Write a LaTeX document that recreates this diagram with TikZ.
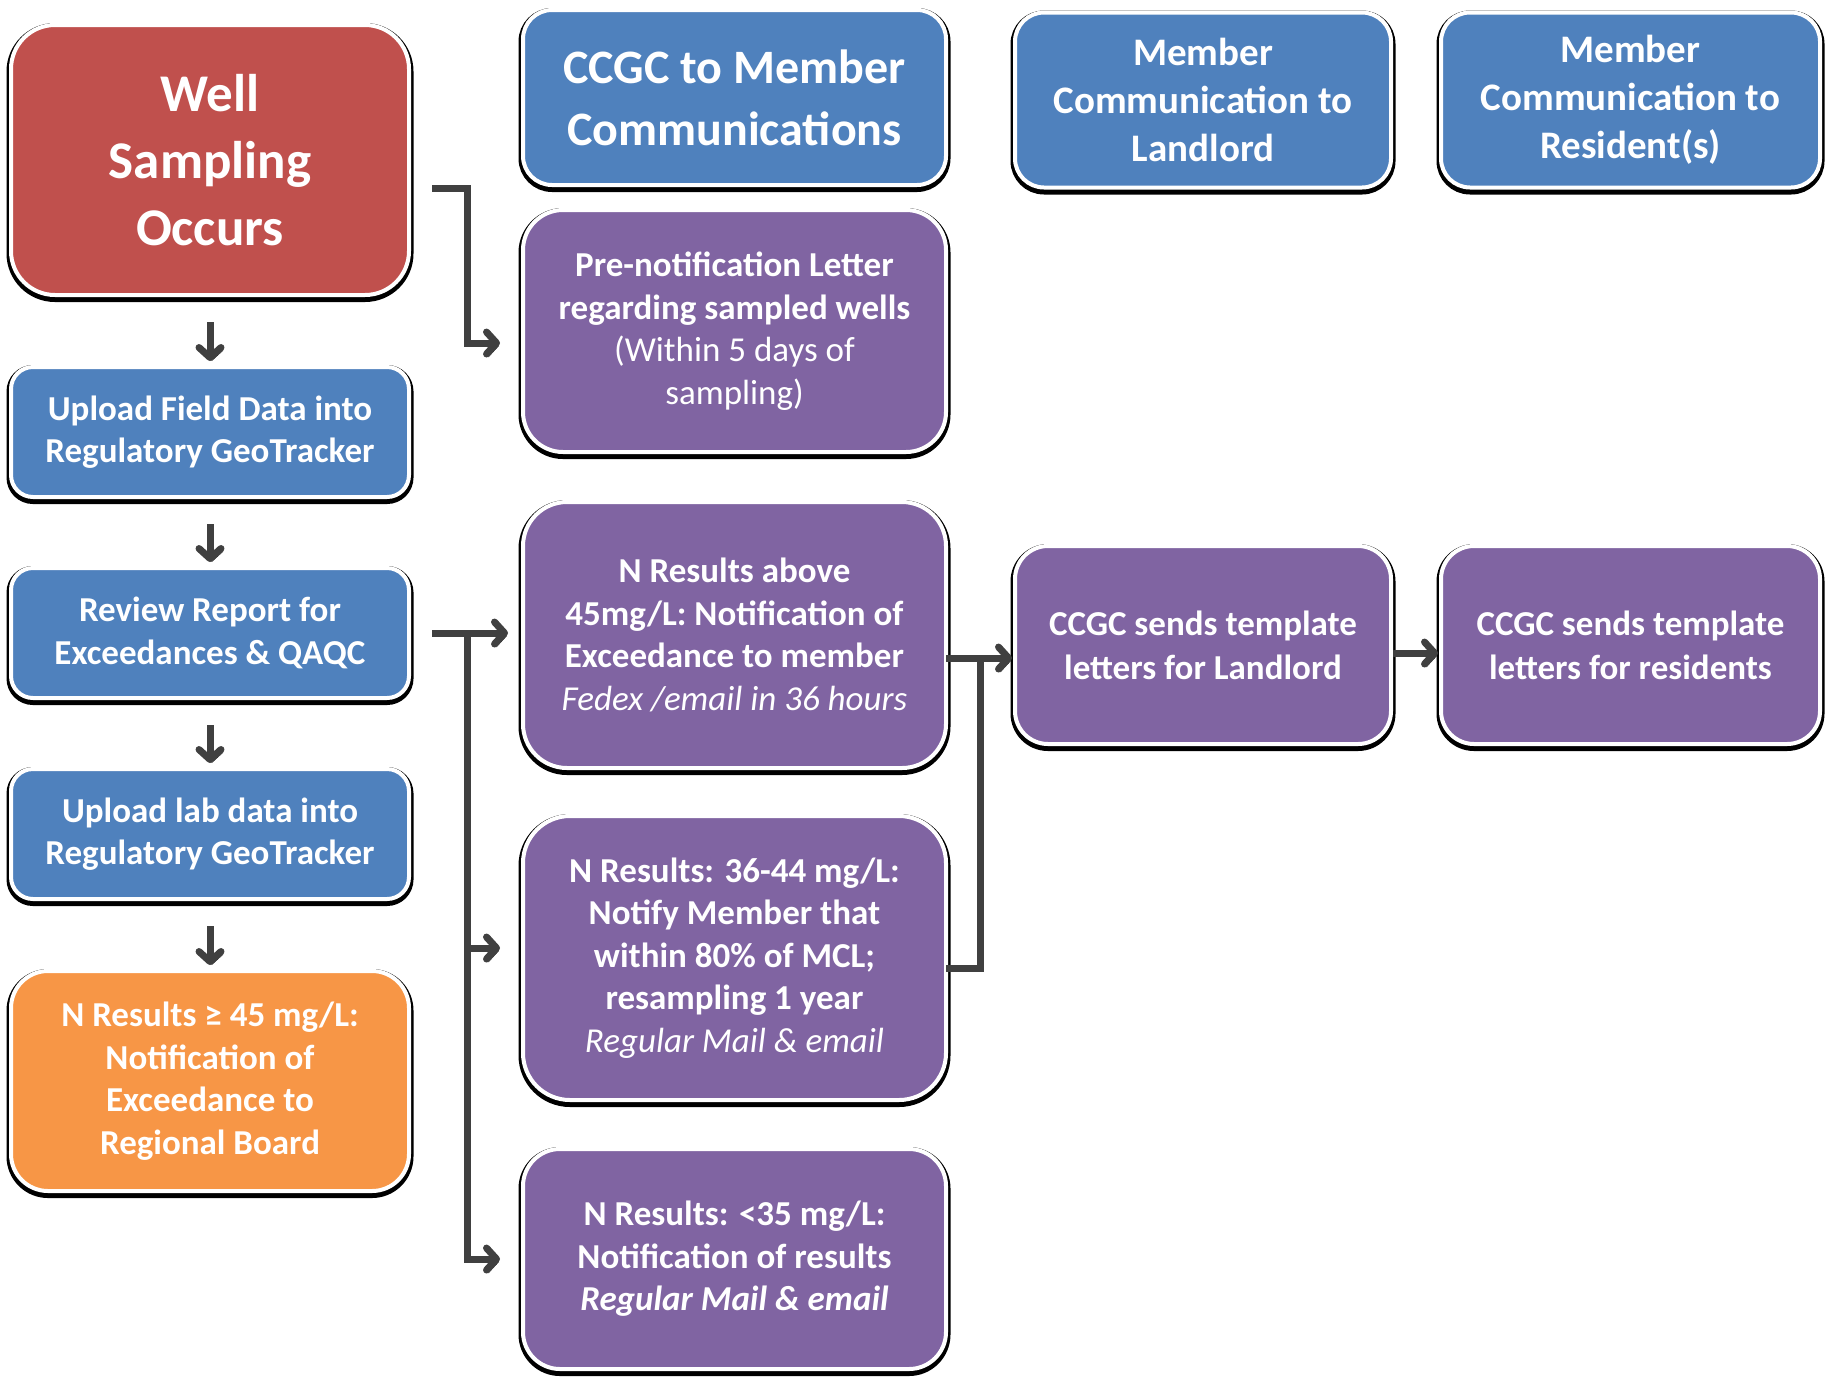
\documentclass[tikz,border=0pt]{standalone}
\usepackage{fontspec}
\setmainfont{Carlito}
\usetikzlibrary{arrows.meta}
\definecolor{wellred}{HTML}{C0504D}
\definecolor{stepblue}{HTML}{4F81BD}
\definecolor{notepurple}{HTML}{8064A2}
\definecolor{boardorange}{HTML}{F79646}
\definecolor{linkgray}{HTML}{404040}
\begin{document}
\begin{tikzpicture}[x=1pt,y=-1pt,
  box/.style={draw=white, line width=4pt, fill=#1, text=white, align=center,
    inner sep=0pt, outer sep=0pt, font=\bfseries\fontsize{35}{42.5}\selectfont,
    preaction={draw=black, line width=9pt, transform canvas={yshift=-2.5pt}}},
  link/.style={draw=linkgray, line width=7pt, -{Straight Barb[length=10pt,width=22pt,round]},
    preaction={draw=black, transform canvas={shift={(2pt,-3pt)}}}}]
\useasboundingbox (0,0) rectangle (1825,1377);
%\draw[step=100,gray,very thin] (0,0) grid (1825,1377);
% left column
\node[box=wellred, minimum width=398pt, minimum height=270pt, rounded corners=44pt,
  font=\bfseries\fontsize{53}{67}\selectfont] (well) at (210,160) {Well\\Sampling\\Occurs};
\node[box=stepblue, minimum width=398pt, minimum height=130pt, rounded corners=22pt] (field) at (210,432)
  {Upload Field Data into\\Regulatory GeoTracker};
\node[box=stepblue, minimum width=398pt, minimum height=130pt, rounded corners=22pt] (review) at (210,633)
  {Review Report for\\Exceedances \& QAQC};
\node[box=stepblue, minimum width=398pt, minimum height=130pt, rounded corners=22pt] (lab) at (210,834)
  {Upload lab data into\\Regulatory GeoTracker};
\node[box=boardorange, minimum width=398pt, minimum height=220pt, rounded corners=37pt] (board) at (210,1081)
  {N Results ≥ 45 mg/L:\\Notification of\\Exceedance to\\Regional Board};
% CCGC column
\node[box=stepblue, minimum width=423pt, minimum height=175pt, rounded corners=29pt,
  font=\bfseries\fontsize{48}{62}\selectfont] (ccgc) at (734.5,97.5) {CCGC to Member\\Communications};
\node[box=notepurple, minimum width=423pt, minimum height=242pt, rounded corners=40pt] (prenote) at (734.5,331)
  {Pre-notification Letter\\regarding sampled wells\\\mdseries(Within 5 days of\\\mdseries sampling)};
\node[box=notepurple, minimum width=423pt, minimum height=266pt, rounded corners=44pt] (above) at (734.5,635)
  {N Results above\\45mg/L: Notification of\\Exceedance to member\\\mdseries\itshape Fedex /email in 36 hours};
\node[box=notepurple, minimum width=423pt, minimum height=284pt, rounded corners=47pt] (near) at (734.5,958)
  {N Results: 36-44 mg/L:\\Notify Member that\\within 80\% of MCL;\\resampling 1 year\\\mdseries\itshape Regular Mail \& email};
\node[box=notepurple, minimum width=423pt, minimum height=220pt, rounded corners=37pt] (below) at (734.5,1259)
  {N Results: <35 mg/L:\\Notification of results\\\itshape Regular Mail \& email};
% member columns
\node[box=stepblue, minimum width=376pt, minimum height=175pt, rounded corners=29pt,
  font=\bfseries\fontsize{39}{48}\selectfont] (landlord) at (1203,100) {Member\\Communication to\\Landlord};
\node[box=stepblue, minimum width=379pt, minimum height=175pt, rounded corners=29pt,
  font=\bfseries\fontsize{39}{48}\selectfont] (resident) at (1630.5,100) {Member\\Communication to\\Resident(s)};
\node[box=notepurple, minimum width=376pt, minimum height=198pt, rounded corners=33pt,
  font=\bfseries\fontsize{35}{44}\selectfont] (sendland) at (1203,645) {CCGC sends template\\letters for Landlord};
\node[box=notepurple, minimum width=379pt, minimum height=198pt, rounded corners=33pt,
  font=\bfseries\fontsize{35}{44}\selectfont] (sendres) at (1630.5,645) {CCGC sends template\\letters for residents};
% arrows
\draw[link] ([yshift=-27pt]well.south) -- ([yshift=6pt]field.north);
\draw[link] ([yshift=-27pt]field.south) -- ([yshift=6pt]review.north);
\draw[link] ([yshift=-27pt]review.south) -- ([yshift=6pt]lab.north);
\draw[link] ([yshift=-27pt]lab.south) -- ([yshift=6pt]board.north);
\draw[link] ([xshift=23pt,yshift=-28pt]well.east) -- ++(35pt,0pt) |- ([xshift=-23pt,yshift=-12pt]prenote.west);
\draw[link] ([xshift=23pt]review.east) -- ([xshift=-15pt,yshift=2pt]above.west);
\draw[link] ([xshift=58pt]review.east) |- ([xshift=-23pt]below.west);
\draw[link] ([xshift=-56pt,yshift=10pt]near.west) -- ([xshift=-23pt,yshift=10pt]near.west);
\draw[link, -] ([yshift=-10pt]near.east) -- ++(34pt,0pt) |- ([yshift=-23pt]above.east);
\draw[link] ([yshift=-23pt]above.east) -- ([xshift=-3pt,yshift=-13pt]sendland.west);
\draw[link] ([xshift=2pt,yshift=-8pt]sendland.east) -- ([xshift=-3pt,yshift=-8pt]sendres.west);
\end{tikzpicture}
\end{document}
